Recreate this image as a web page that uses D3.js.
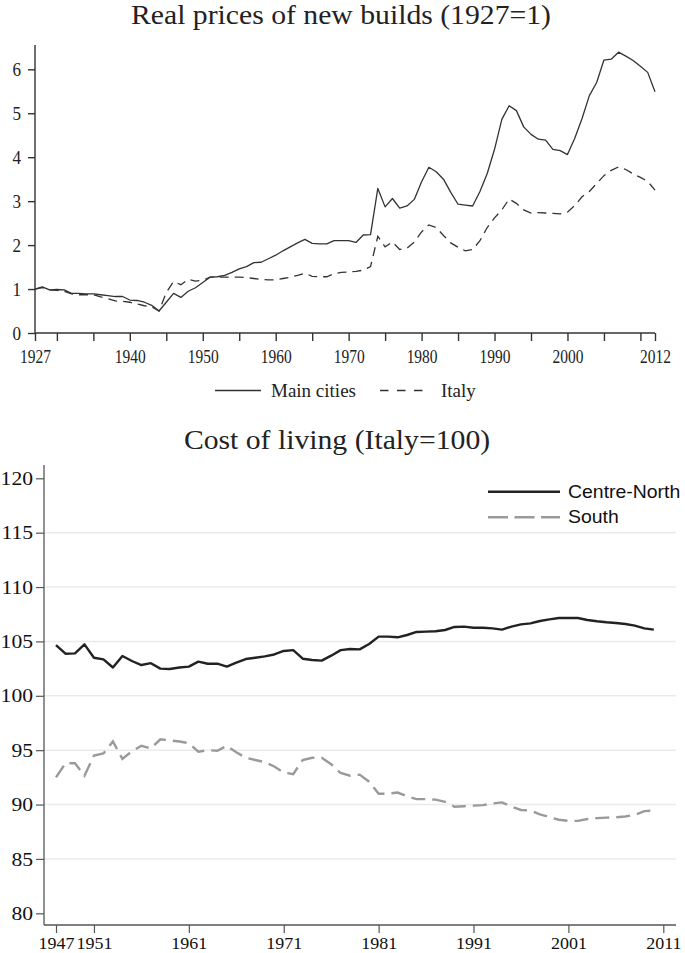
<!DOCTYPE html>
<html>
<head>
<meta charset="utf-8">
<script src="https://cdn.jsdelivr.net/npm/d3@7"></script>
<style>
  html, body { margin: 0; padding: 0; background: #fff; }
  svg { display: block; }
</style>
</head>
<body>
<script>
// ---------- DATA ----------
// Chart 1: Real prices of new builds (1927=1), yearly 1927-2012
const priceYears = d3.range(1927, 2013);
const mainCities = [
  1.00,1.05,0.98,0.99,0.98,0.90,0.90,0.89,0.89,0.87,
  0.85,0.83,0.83,0.75,0.74,0.70,0.63,0.50,0.70,0.90,
  0.81,0.95,1.03,1.15,1.27,1.28,1.31,1.38,1.46,1.51,
  1.60,1.61,1.69,1.77,1.87,1.96,2.05,2.13,2.04,2.03,
  2.03,2.10,2.10,2.10,2.06,2.23,2.24,3.29,2.87,3.06,
  2.84,2.89,3.04,3.44,3.77,3.67,3.50,3.20,2.93,2.91,
  2.89,3.22,3.63,4.18,4.86,5.17,5.06,4.69,4.52,4.41,
  4.39,4.18,4.15,4.06,4.43,4.88,5.40,5.70,6.21,6.23,
  6.39,6.30,6.20,6.07,5.93,5.49
];
const italy = [
  1.00,1.03,0.98,0.97,0.95,0.89,0.87,0.87,0.87,0.82,
  0.78,0.73,0.72,0.70,0.66,0.62,0.60,0.50,0.92,1.17,
  1.10,1.22,1.18,1.20,1.27,1.27,1.27,1.27,1.27,1.26,
  1.24,1.22,1.21,1.21,1.24,1.27,1.31,1.36,1.29,1.28,
  1.28,1.35,1.38,1.39,1.40,1.43,1.51,2.20,1.96,2.07,
  1.90,1.93,2.07,2.30,2.46,2.40,2.22,2.05,1.95,1.87,
  1.90,2.10,2.40,2.62,2.80,3.05,2.95,2.80,2.73,2.74,
  2.73,2.72,2.71,2.75,2.90,3.10,3.22,3.40,3.58,3.70,
  3.78,3.72,3.62,3.54,3.45,3.25
];
const priceYTicks = [0, 1, 2, 3, 4, 5, 6];
const priceXTicks = [1927, 1930, 1935, 1940, 1945, 1950, 1955, 1960, 1965, 1970, 1975,
                     1980, 1985, 1990, 1995, 2000, 2005, 2010, 2012];
const priceXLabels = [1927, 1940, 1950, 1960, 1970, 1980, 1990, 2000, 2012];
const priceSeriesNames = ["Main cities", "Italy"];

// Chart 2: Cost of living (Italy=100), yearly 1947-2010
const colYears = d3.range(1947, 2011);
const centreNorth = [
  104.67,103.87,103.90,104.73,103.50,103.35,102.60,103.66,103.20,102.83,
  103.00,102.50,102.47,102.60,102.68,103.14,102.95,102.95,102.68,103.05,
  103.38,103.50,103.63,103.80,104.12,104.20,103.41,103.29,103.23,103.69,
  104.20,104.30,104.27,104.76,105.44,105.44,105.38,105.59,105.87,105.90,
  105.93,106.05,106.33,106.36,106.26,106.26,106.20,106.08,106.36,106.57,
  106.66,106.88,107.03,107.15,107.15,107.15,106.97,106.85,106.76,106.70,
  106.60,106.45,106.20,106.08
];
const south = [
  92.50,93.80,93.80,92.65,94.50,94.70,95.80,94.20,94.90,95.40,
  95.15,96.00,95.90,95.80,95.65,94.86,95.00,94.95,95.40,94.80,
  94.30,94.10,93.90,93.50,92.95,92.80,94.10,94.30,94.30,93.70,
  92.90,92.65,92.75,92.10,91.00,91.00,91.10,90.75,90.50,90.50,
  90.45,90.25,89.80,89.85,89.90,89.95,90.10,90.20,89.80,89.50,
  89.45,89.10,88.85,88.60,88.50,88.50,88.67,88.75,88.80,88.83,
  88.90,89.05,89.40,89.45
];
const colYTicks = [80, 85, 90, 95, 100, 105, 110, 115, 120];
const colGrid = [85, 90, 95, 100, 105, 110, 115];
const colXTicks = [1947, 1951, 1961, 1971, 1981, 1991, 2001, 2011];
const colSeriesNames = ["Centre-North", "South"];

// ---------- DRAW ----------
const W = 685, H = 953;
const svg = d3.select("body").append("svg").attr("width", W).attr("height", H);
const serif = "'Liberation Serif', 'Times New Roman', serif";
const sans = "'Liberation Sans', Arial, sans-serif";

// ===== Chart 1 =====
const x1 = d3.scaleLinear().domain([1927, 2012]).range([35, 655]);
const y1 = d3.scaleLinear().domain([0, 6]).range([333, 69.3]);
const ink1 = "#333";

svg.append("text")
  .attr("transform", "translate(341,24) scale(1.1,1)")
  .attr("text-anchor", "middle")
  .attr("font-family", serif).attr("font-size", 27).attr("fill", "#222")
  .text("Real prices of new builds (1927=1)");

// axis lines
svg.append("line").attr("x1", 35).attr("x2", 35).attr("y1", 45).attr("y2", 333)
  .attr("stroke", ink1).attr("stroke-width", 1.4);
svg.append("line").attr("x1", 35).attr("x2", 655).attr("y1", 333).attr("y2", 333)
  .attr("stroke", ink1).attr("stroke-width", 1.4);

const yAx1 = svg.append("g").attr("transform", "translate(35,0)")
  .call(d3.axisLeft(y1).tickValues(priceYTicks).tickSize(7).tickFormat(d3.format("d")));
yAx1.select(".domain").remove();
yAx1.selectAll(".tick line").attr("stroke", ink1).attr("stroke-width", 1.4);
yAx1.selectAll(".tick text")
  .attr("x", 0).attr("dy", "0.34em")
  .attr("transform", "translate(-14,0) scale(0.9,1)")
  .attr("font-family", serif).attr("font-size", 19).attr("fill", "#222");

const xAx1 = svg.append("g").attr("transform", "translate(0,333)")
  .call(d3.axisBottom(x1).tickValues(priceXTicks).tickSize(8)
    .tickFormat(d => priceXLabels.includes(d) ? String(d) : ""));
xAx1.select(".domain").remove();
xAx1.selectAll(".tick line").attr("stroke", ink1).attr("stroke-width", 1.4);
xAx1.selectAll(".tick text")
  .attr("y", 0).attr("dy", 0)
  .attr("transform", "translate(0,30) scale(0.86,1)")
  .attr("font-family", serif).attr("font-size", 18).attr("fill", "#222");

const line1 = d3.line().x((d, i) => x1(priceYears[i])).y(d => y1(d));
svg.append("path").datum(mainCities).attr("d", line1)
  .attr("fill", "none").attr("stroke", ink1).attr("stroke-width", 1.3)
  .attr("stroke-linejoin", "round");
svg.append("path").datum(italy).attr("d", line1)
  .attr("fill", "none").attr("stroke", ink1).attr("stroke-width", 1.3)
  .attr("stroke-dasharray", "9,6");

// legend 1
const leg1 = svg.append("g");
leg1.append("line").attr("x1", 215).attr("x2", 261).attr("y1", 390.5).attr("y2", 390.5)
  .attr("stroke", ink1).attr("stroke-width", 1.3);
leg1.append("text").attr("x", 271).attr("y", 397)
  .attr("font-family", serif).attr("font-size", 19).attr("fill", "#222").text(priceSeriesNames[0]);
leg1.append("line").attr("x1", 380).attr("x2", 423).attr("y1", 390.5).attr("y2", 390.5)
  .attr("stroke", ink1).attr("stroke-width", 1.3).attr("stroke-dasharray", "8.5,8.5");
leg1.append("text").attr("x", 441).attr("y", 397)
  .attr("font-family", serif).attr("font-size", 19).attr("fill", "#222").text(priceSeriesNames[1]);

// ===== Chart 2 =====
const x2 = d3.scaleLinear().domain([1947, 2011]).range([56, 663.3]);
const y2 = d3.scaleLinear().domain([80, 120]).range([913.3, 478.3]);
const axisCol = "#555";

svg.append("text")
  .attr("transform", "translate(337,449) scale(1.1,1)")
  .attr("text-anchor", "middle")
  .attr("font-family", serif).attr("font-size", 27).attr("fill", "#222")
  .text("Cost of living (Italy=100)");

svg.append("g").selectAll("line").data(colGrid).join("line")
  .attr("x1", 44).attr("x2", 676)
  .attr("y1", d => y2(d)).attr("y2", d => y2(d))
  .attr("stroke", "#ebebeb").attr("stroke-width", 1.6);

svg.append("line").attr("x1", 44).attr("x2", 44).attr("y1", 465).attr("y2", 925)
  .attr("stroke", axisCol).attr("stroke-width", 1.3);
svg.append("line").attr("x1", 44).attr("x2", 676).attr("y1", 925).attr("y2", 925)
  .attr("stroke", axisCol).attr("stroke-width", 1.3);

const yAx2 = svg.append("g").attr("transform", "translate(44,0)")
  .call(d3.axisLeft(y2).tickValues(colYTicks).tickSize(8).tickFormat(d3.format("d")));
yAx2.select(".domain").remove();
yAx2.selectAll(".tick line").attr("stroke", axisCol).attr("stroke-width", 1.2);
yAx2.selectAll(".tick text")
  .attr("x", 0).attr("dy", "0.34em")
  .attr("transform", "translate(-11,0) scale(1.2,1)")
  .attr("font-family", serif).attr("font-size", 18).attr("fill", "#111");

const xAx2 = svg.append("g").attr("transform", "translate(0,925)")
  .call(d3.axisBottom(x2).tickValues(colXTicks).tickSize(8).tickFormat(d3.format("d")));
xAx2.select(".domain").remove();
xAx2.selectAll(".tick line").attr("stroke", axisCol).attr("stroke-width", 1.2);
xAx2.selectAll(".tick text")
  .attr("y", 0).attr("dy", 0)
  .attr("transform", "translate(0,24) scale(1.06,1)")
  .attr("font-family", serif).attr("font-size", 17).attr("fill", "#111");

const line2 = d3.line().x((d, i) => x2(colYears[i])).y(d => y2(d));
svg.append("path").datum(centreNorth).attr("d", line2)
  .attr("fill", "none").attr("stroke", "#222").attr("stroke-width", 2.4)
  .attr("stroke-linejoin", "round");
svg.append("path").datum(south).attr("d", line2)
  .attr("fill", "none").attr("stroke", "#9a9a9a").attr("stroke-width", 2.4)
  .attr("stroke-dasharray", "14,7");

// legend 2
const leg2 = svg.append("g");
leg2.append("line").attr("x1", 488).attr("x2", 560).attr("y1", 491.7).attr("y2", 491.7)
  .attr("stroke", "#222").attr("stroke-width", 2.4);
leg2.append("text").attr("transform", "translate(568,498) scale(1.08,1)")
  .attr("font-family", sans).attr("font-size", 18).attr("fill", "#111").text(colSeriesNames[0]);
leg2.append("line").attr("x1", 488).attr("x2", 560).attr("y1", 517.3).attr("y2", 517.3)
  .attr("stroke", "#9a9a9a").attr("stroke-width", 2.4).attr("stroke-dasharray", "20,6.5");
leg2.append("text").attr("transform", "translate(568,523) scale(1.08,1)")
  .attr("font-family", sans).attr("font-size", 18).attr("fill", "#111").text(colSeriesNames[1]);
</script>
</body>
</html>
